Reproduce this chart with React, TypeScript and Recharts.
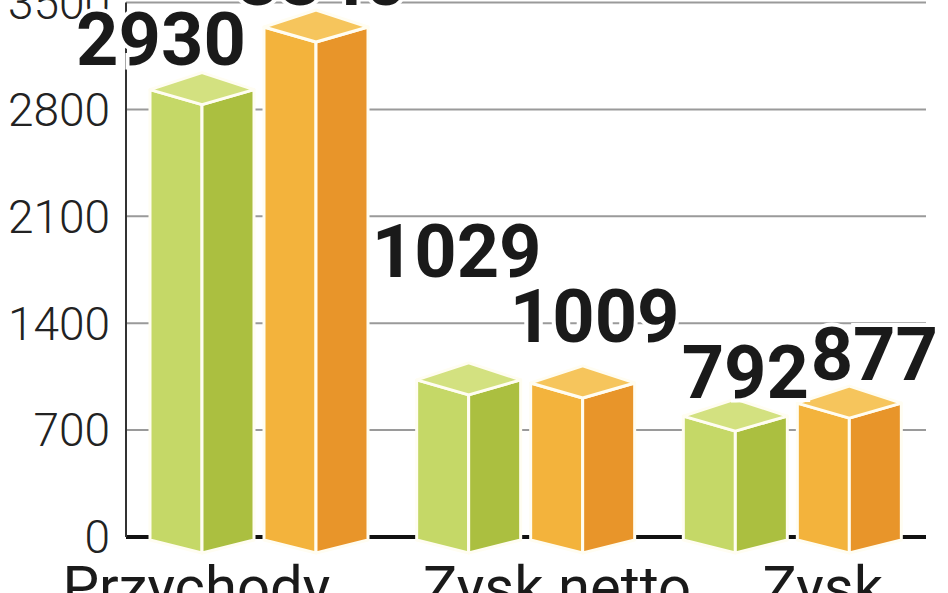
import React from 'react';
import { BarChart, Bar, XAxis, YAxis, CartesianGrid, LabelList } from 'recharts';

const categories = ['Przychody', 'Zysk netto', 'Zysk\noperacyjny'];
const firstValues = [2930, 1029, 792];
const secondValues = [3340, 1009, 877];
const yTicks = [0, 700, 1400, 2100, 2800, 3500];

// the original places its numbers by hand, so nudge each one [dx, dy]
const firstLabelShift = [[-41, -25], [-12, -103], [10, -18]];
const secondLabelShift = [[6, -22], [12, -41], [25, -23]];
const tickShift = [-63, 31, 30];

const data = categories.map((name, i) => ({ name, first: firstValues[i], second: secondValues[i] }));

const GREEN = { left: '#c5d867', right: '#abbf40', top: '#d3e180' };
const ORANGE = { left: '#f3b33c', right: '#e8952a', top: '#f6c55c' };
const DEPTH = 15;

const prism = (c: typeof GREEN) => (props: any) => {
  const { x, y, width, height } = props;
  const mid = x + width / 2;
  const base = y + height + 3;
  const pts = (arr: number[][]) => arr.map(p => p.join(',')).join(' ');
  return (
    <g stroke="#fffdf2" strokeWidth={3} strokeLinejoin="round">
      <polygon fill={c.left} points={pts([[x, y], [mid, y + DEPTH], [mid, base + DEPTH - 2], [x, base]])} />
      <polygon fill={c.right} points={pts([[mid, y + DEPTH], [x + width, y], [x + width, base], [mid, base + DEPTH - 2]])} />
      <polygon fill={c.top} points={pts([[x, y], [mid, y - DEPTH - 2], [x + width, y], [mid, y + DEPTH]])} />
    </g>
  );
};

const valueLabel = (shift: number[][]) => (props: any) => {
  const { x, y, width, value, index } = props;
  const [dx, dy] = shift[index];
  return (
    <text
      x={x + width / 2 + dx}
      y={y + dy}
      textAnchor="middle"
      fontFamily="Roboto"
      fontWeight={700}
      fontSize={74}
      fill="#1a1a1a"
      stroke="#fff"
      strokeWidth={8}
      paintOrder="stroke"
    >
      {value}
    </text>
  );
};

const CategoryTick = (props: any) => {
  const { x, y, payload, index } = props;
  const lines = String(payload.value).split('\n');
  const cx = x + tickShift[index];
  return (
    <text x={cx} y={y} textAnchor="middle" fontFamily="Roboto" fontSize={58} fill="#1a1a1a">
      {lines.map((l, i) => (
        <tspan key={i} x={cx} dy={i === 0 ? '0.71em' : '1.1em'}>{l}</tspan>
      ))}
    </text>
  );
};

export default function App() {
  return (
    <div style={{ position: 'absolute', left: 0, top: 0, width: 948, height: 593, background: '#fff' }}>
      <BarChart
        width={948}
        height={593}
        data={data}
        margin={{ top: 2.6, right: 22, left: 0, bottom: 0 }}
        barSize={104}
        barGap={10}
      >
        <CartesianGrid
          vertical={false}
          horizontal={(p: any) => {
            const bottom = p.y1 > 530;
            return (
              <line
                key={`h-${p.index}-${p.y1}`}
                x1={p.x1}
                x2={p.x2}
                y1={p.y1}
                y2={p.y2}
                stroke={bottom ? '#111' : '#9a9a9a'}
                strokeWidth={bottom ? 4 : 2}
              />
            );
          }}
        />
        <XAxis
          dataKey="name"
          height={56}
          axisLine={false}
          tickLine={false}
          tickMargin={23}
          interval={0}
          tick={<CategoryTick />}
        />
        <YAxis
          width={126}
          domain={[0, 3500]}
          ticks={yTicks}
          interval={0}
          axisLine={{ stroke: '#333', strokeWidth: 2 }}
          tickLine={false}
          tickMargin={10}
          tick={{ fontSize: 46, fontFamily: 'Roboto', fontWeight: 300, fill: '#222' }}
        />
        <Bar dataKey="first" shape={prism(GREEN)} isAnimationActive={false}>
          <LabelList dataKey="first" content={valueLabel(firstLabelShift)} />
        </Bar>
        <Bar dataKey="second" shape={prism(ORANGE)} isAnimationActive={false}>
          <LabelList dataKey="second" content={valueLabel(secondLabelShift)} />
        </Bar>
      </BarChart>
    </div>
  );
}
